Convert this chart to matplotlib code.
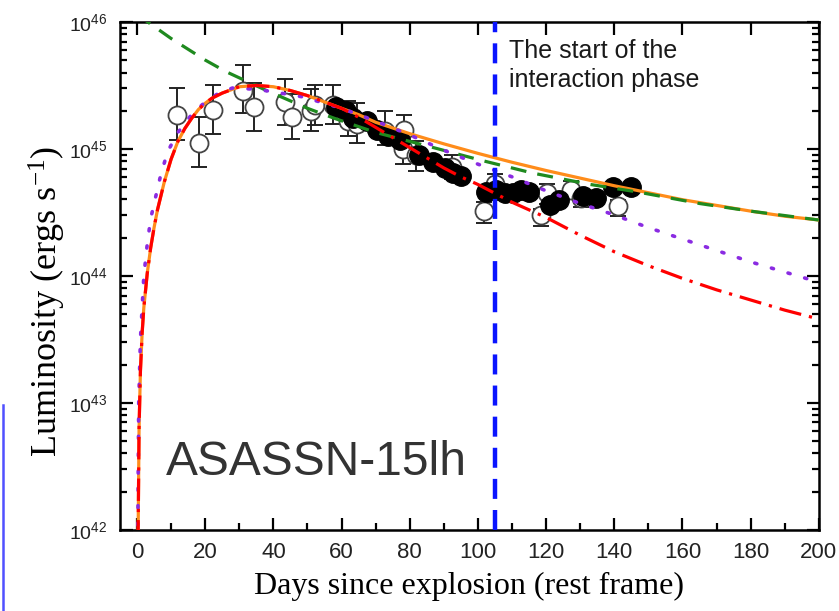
import numpy as np
import matplotlib.pyplot as plt
from matplotlib.lines import Line2D
from matplotlib.ticker import MultipleLocator, LogLocator, NullFormatter

plt.rcParams['font.family'] = ['Liberation Sans', 'DejaVu Sans']
plt.rcParams['mathtext.default'] = 'regular'

# open circles: day, log10 L, lower / upper error bar ends (log10)
open_day = [11.7, 18.3, 22.4, 31.0, 34.3, 43.3, 45.5, 51.1, 52.1, 57.4,
            61.8, 64.5, 72.6, 77.9, 78.4, 81.9, 92.5,
            101.9, 105.0, 118.5, 120.4, 127.3, 130.3, 141.0]
open_logL = [45.27, 45.05, 45.31, 45.46, 45.33, 45.37, 45.25, 45.30, 45.35, 45.35,
             45.22, 45.20, 45.14, 45.00, 45.15, 44.95, 44.86,
             44.51, 44.72, 44.48, 44.65, 44.68, 44.61, 44.55]
open_lo = [45.07, 44.86, 45.12, 45.28, 45.14, 45.19, 45.08, 45.14, 45.19, 45.20,
           45.10, 45.05, 45.03, 44.88, 45.03, 44.83, 44.76,
           44.42, 44.63, 44.39, 44.57, 44.61, 44.54, 44.47]
open_hi = [45.48, 45.25, 45.50, 45.66, 45.52, 45.55, 45.43, 45.47, 45.50, 45.50,
           45.38, 45.36, 45.30, 45.10, 45.27, 45.06, 44.95,
           44.58, 44.80, 44.53, 44.72, 44.75, 44.68, 44.60]

# filled circles
fill_day = [58.4, 61.3, 63.3, 67.6, 70.5, 73.5, 77.0, 82.8, 86.7, 90.2, 92.6, 95.1,
            102.4, 105.3, 107.8, 110.2, 112.7, 115.1, 121.0, 123.9, 130.7, 134.7,
            139.5, 144.9]
fill_logL = [45.33, 45.30, 45.24, 45.22, 45.15, 45.10, 45.07, 44.95, 44.90, 44.85, 44.81, 44.79,
             44.66, 44.68, 44.65, 44.65, 44.68, 44.66, 44.56, 44.60, 44.63, 44.61,
             44.70, 44.70]

# model curves (day, log10 L)
rise_day = [0.3, 0.6, 1.0, 1.5, 2, 3, 4, 5, 6, 8, 10, 12, 14, 16, 18, 20, 22, 25, 30, 35,
            40, 45, 50, 55, 60]
rise_logL = [41.9, 42.8, 43.25, 43.55, 43.75, 44.02, 44.22, 44.38, 44.52, 44.74, 44.92, 45.06,
             45.16, 45.24, 45.31, 45.36, 45.40, 45.44, 45.49, 45.50,
             45.49, 45.46, 45.42, 45.37, 45.32]

red_day = [65, 70, 75, 80, 85, 90, 95, 100, 105, 110, 120, 130, 140, 150, 160, 170, 180, 190, 200]
red_logL = [45.25, 45.17, 45.09, 45.01, 44.93, 44.85, 44.78, 44.72, 44.65, 44.58, 44.46, 44.32,
            44.19, 44.08, 43.98, 43.89, 43.81, 43.73, 43.66]

orange_day = [65, 70, 80, 90, 100, 110, 120, 130, 140, 150, 160, 170, 180, 190, 200]
orange_logL = [45.27, 45.21, 45.12, 45.04, 44.965, 44.895, 44.83, 44.77, 44.71, 44.655, 44.60,
               44.555, 44.51, 44.47, 44.44]

purple_day = [0.2, 0.5, 1.0, 2, 3, 4, 5.7, 7, 9, 12, 16, 20, 24, 28, 35, 40, 48.6, 60, 70, 80,
              90, 100, 110, 120, 130, 140, 150, 160, 170, 180, 190, 200]
purple_logL = [41.9, 43.0, 43.5, 44.0, 44.25, 44.45, 44.65, 44.80, 44.98, 45.13, 45.27, 45.37,
               45.44, 45.48, 45.47, 45.45, 45.41, 45.32, 45.22, 45.11, 44.99, 44.88, 44.78,
               44.67, 44.57, 44.48, 44.38, 44.29, 44.20, 44.11, 44.03, 43.95]

green_day = [0, 10, 20, 26, 38, 50, 58, 70, 87, 101, 116, 133, 147, 165, 180, 200]
green_logL = [46.06, 45.87, 45.70, 45.61, 45.46, 45.32, 45.24, 45.13, 45.01, 44.91, 44.81, 44.72,
              44.66, 44.57, 44.51, 44.44]

t_interaction = 105

fig = plt.figure(figsize=(8.39, 6.11), dpi=100)
ax = fig.add_axes([0.143, 0.133, 0.833, 0.831])

pw = lambda a: 10 ** np.asarray(a)

L = pw(open_logL)
yerr = [L - pw(open_lo), pw(open_hi) - L]
ax.errorbar(open_day, L, yerr=yerr, fmt='none', ecolor='#222222', elinewidth=1.4,
            capsize=5.5, capthick=1.4, zorder=2)
ax.plot(open_day, L, 'o', ms=13, mfc='white', mec='#444444', mew=1.3, zorder=3)
ax.plot(fill_day, pw(fill_logL), 'o', ms=14, mfc='black', mec='black', zorder=4)

ax.plot(rise_day + orange_day, pw(rise_logL + orange_logL), '-', color='#ff8c1a', lw=2.3, zorder=5)
ax.plot(green_day, pw(green_logL), color='#1f8a1f', lw=2.3, dashes=(5, 3.5), zorder=5)
ax.plot(purple_day, pw(purple_logL), color='#8a2be2', lw=2.6, dashes=(0.6, 4.2),
        dash_capstyle='round', zorder=6)
ax.plot(rise_day + red_day, pw(rise_logL + red_logL), color='red', lw=2.3,
        dashes=(7, 2.5, 1, 2.5), zorder=7)

ax.axvline(t_interaction, color='#0a14ff', lw=3.2, dashes=(4.5, 2.5), zorder=8)

ax.set_yscale('log')
ax.set_xlim(-5, 200)
ax.set_ylim(1e42, 1e46)

ax.xaxis.set_major_locator(MultipleLocator(20))
ax.xaxis.set_minor_locator(MultipleLocator(10))
ax.yaxis.set_major_locator(LogLocator(base=10, numticks=10))
ax.yaxis.set_minor_locator(LogLocator(base=10, subs=np.arange(2, 10), numticks=10))
ax.yaxis.set_minor_formatter(NullFormatter())

ax.tick_params(which='both', direction='in', top=True, right=True, width=1.6, colors='black')
ax.tick_params(which='major', length=9)
ax.tick_params(which='minor', length=5)
ax.tick_params(axis='x', which='minor', top=False)
ax.tick_params(axis='both', labelsize=14, labelcolor='#222222', pad=9)
ax.tick_params(axis='x', labelsize=16)
for s in ax.spines.values():
    s.set_linewidth(1.8)

ax.set_xlabel('Days since explosion (rest frame)', fontfamily='Liberation Serif',
              fontsize=23, labelpad=6)
ax.set_ylabel('Luminosity (ergs s$^{-1}$)', fontfamily='Liberation Serif', fontsize=26)
ax.yaxis.set_label_coords(-0.074, 0.45)

ax.text(109, 10 ** 45.66, 'The start of the\ninteraction phase', fontsize=18,
        color='#1a1a1a', va='center', ha='left', linespacing=1.25)
ax.text(52.5, 10 ** 42.53, 'ASASSN-15lh', fontsize=34.5, color='#333333',
        ha='center', va='center')

fig.add_artist(Line2D([0.004, 0.004], [0, 1 - 405 / 611], transform=fig.transFigure,
                      color='#5050ff', lw=1.8))

fig.savefig('out.png', dpi=100)
